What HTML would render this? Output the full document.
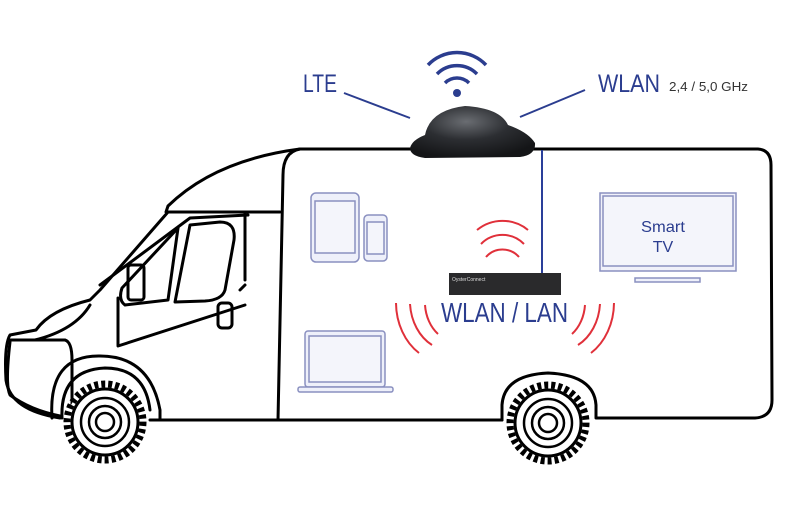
<!DOCTYPE html>
<html><head><style>
html,body{margin:0;padding:0;background:#fff;}
svg{display:block;}
text{font-family:"Liberation Sans",sans-serif;}
</style></head><body>
<svg width="800" height="508" viewBox="0 0 800 508" xmlns="http://www.w3.org/2000/svg">
<defs>
<radialGradient id="dome" cx="45%" cy="30%" r="70%">
<stop offset="0" stop-color="#6a6d72"/><stop offset="0.5" stop-color="#2c2e32"/><stop offset="1" stop-color="#141517"/>
</radialGradient>
</defs>
<g fill="none" stroke="#000" stroke-width="3" stroke-linejoin="round" stroke-linecap="round">
<path d="M410 149 L758 149 Q771 150 771 165 L772 400 Q772 417 755 418 L596 418 L596 405 Q594 375 548 373 Q504 375 502 405 L502 420 L150 420"/>
<path d="M300 149 Q215 160 168 206 L166 212 L280 212"/>
<path d="M410 149 L300 149 Q283 152 283 175 L278 420"/>
<path d="M168 212 L100 290 L90 300 Q50 310 36 330 L10 335 Q4 345 6 380 Q10 410 60 418"/>
<path d="M245 212 L245 280"/>
<path d="M248 215 L190 218 L100 285"/>
<path d="M35 340 Q75 330 90 305"/>
<path d="M10 342 Q5 385 10 395 Q30 410 60 416"/>
<path d="M10 340 L65 340 Q72 342 72 360 L72 415"/>
<path d="M178 228 L122 288 Q118 300 125 305 L168 300 L178 228"/>
<path d="M190 225 L220 222 Q236 222 234 240 L225 290 Q222 300 205 301 L175 302 Z"/>
<path d="M118 298 L118 345"/>
<path d="M240 290 L245 285"/>
<path d="M118 346 L245 305"/>
<rect x="218" y="303" width="14" height="25" rx="4"/>
<rect x="128" y="265" width="16" height="35" rx="3"/>
<path d="M52 418 Q48 355 100 356 Q150 356 160 410 L160 420"/>
<path d="M62 418 Q60 370 105 368 Q145 368 150 410"/>
<path d="M160 420 L502 420"/>
</g>
<g stroke="#000" fill="#fff">
<circle cx="105" cy="422" r="38" stroke-width="7" stroke-dasharray="4 3"/>
<circle cx="105" cy="422" r="33" stroke-width="3"/>
<circle cx="105" cy="422" r="24" stroke-width="2.5"/>
<circle cx="105" cy="422" r="16" stroke-width="2.5"/>
<circle cx="105" cy="422" r="9" stroke-width="2.5"/>
<circle cx="548" cy="423" r="38" stroke-width="7" stroke-dasharray="4 3"/>
<circle cx="548" cy="423" r="33" stroke-width="3"/>
<circle cx="548" cy="423" r="24" stroke-width="2.5"/>
<circle cx="548" cy="423" r="16" stroke-width="2.5"/>
<circle cx="548" cy="423" r="9" stroke-width="2.5"/>
</g>
<path d="M410 148 Q412 140 425 135 Q430 110 465 106 Q500 108 508 125 Q528 132 535 143 Q536 155 520 157 L425 158 Q410 156 410 148 Z" fill="url(#dome)"/>
<line x1="542" y1="150" x2="542" y2="275" stroke="#2a3f9a" stroke-width="2"/>
<g stroke="#2b3d8f" stroke-width="2" fill="none">
<line x1="344" y1="93" x2="410" y2="118"/>
<line x1="585" y1="90" x2="520" y2="117"/>
<path d="M445 83 A17 17 0 0 1 469 83" stroke-width="3.5"/>
<path d="M437 74 A28 28 0 0 1 477 74" stroke-width="3.5"/>
<path d="M428 65 A40 40 0 0 1 486 65" stroke-width="3.5"/>
</g>
<circle cx="457" cy="93" r="4" fill="#2b3d8f"/>
<text x="303" y="92" font-size="25" fill="#2b3d8f" textLength="34" lengthAdjust="spacingAndGlyphs">LTE</text>
<text x="598" y="92" font-size="25" fill="#2b3d8f" textLength="62" lengthAdjust="spacingAndGlyphs">WLAN</text>
<text x="669" y="91" font-size="13" fill="#333" textLength="79" lengthAdjust="spacingAndGlyphs">2,4 / 5,0 GHz</text>
<g fill="#eef0fa" stroke="#8a90c0" stroke-width="1.5">
<rect x="311" y="193" width="48" height="69" rx="5"/>
<rect x="315" y="201" width="40" height="52" fill="#f4f5fb"/>
<rect x="364" y="215" width="23" height="46" rx="4"/>
<rect x="367" y="222" width="17" height="32" fill="#f4f5fb"/>
<rect x="305" y="331" width="80" height="56" rx="3"/>
<rect x="309" y="336" width="72" height="46" fill="#f4f5fb"/>
<rect x="298" y="387" width="95" height="5" rx="2"/>
<rect x="600" y="193" width="136" height="78" fill="#f0f1fa"/>
<rect x="603" y="196" width="130" height="70" fill="#f4f5fb"/>
<rect x="635" y="278" width="65" height="4"/>
</g>
<text x="663" y="232" font-size="16" fill="#2b3d8f" text-anchor="middle" textLength="44" lengthAdjust="spacingAndGlyphs">Smart</text>
<text x="663" y="252" font-size="16" fill="#2b3d8f" text-anchor="middle">TV</text>
<rect x="449" y="273" width="112" height="22" fill="#2a2a2c"/>
<text x="452" y="281" font-size="5" fill="#ddd">OysterConnect</text>
<g stroke="#e0303a" stroke-width="2" fill="none">
<path d="M477 230 A40 40 0 0 1 528 230"/>
<path d="M481 244 A30 30 0 0 1 524 244"/>
<path d="M486 257 A22 22 0 0 1 519 257"/>
<path d="M425 305 A32 40 0 0 0 438 334"/>
<path d="M410 304 A40 50 0 0 0 432 345"/>
<path d="M396 303 A50 60 0 0 0 419 353"/>
<path d="M585 305 A32 40 0 0 1 572 334"/>
<path d="M600 304 A40 50 0 0 1 578 345"/>
<path d="M614 303 A50 60 0 0 1 591 353"/>
</g>
<text x="441" y="322" font-size="28" fill="#2b3d8f" textLength="127" lengthAdjust="spacingAndGlyphs">WLAN / LAN</text>
</svg>
</body></html>
